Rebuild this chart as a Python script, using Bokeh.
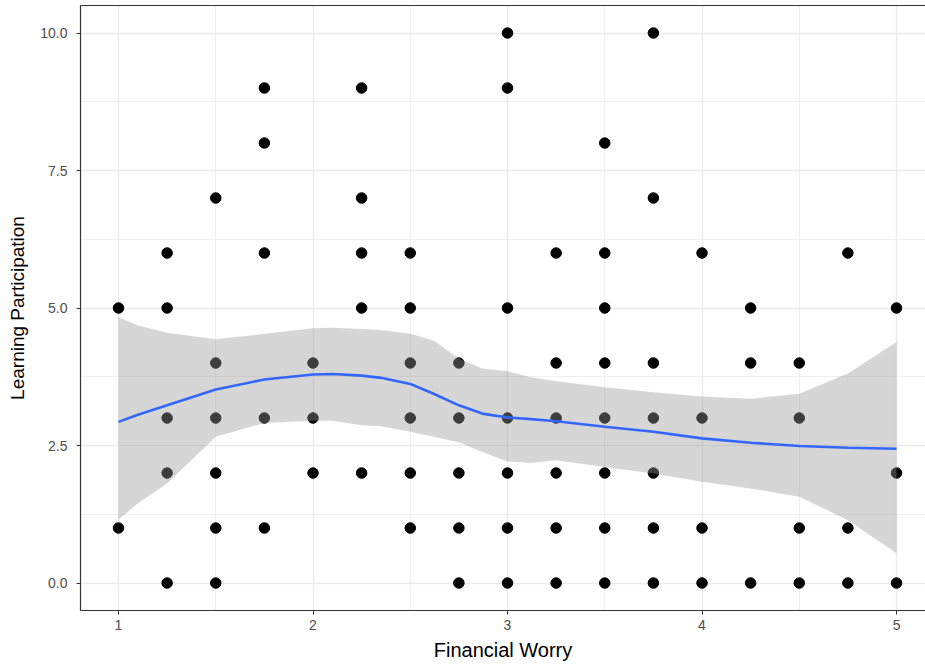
from bokeh.plotting import figure
from bokeh.models import Range1d, FixedTicker, NumeralTickFormatter, LinearAxis
from bokeh.embed import file_html
from bokeh.resources import INLINE

# ---- data: scatter points (Financial Worry vs Learning Participation) ----
worry = (
    [1.0] * 2 + [1.25] * 5 + [1.5] * 6 + [1.75] * 5 + [2.0] * 3 + [2.25] * 5 +
    [2.5] * 6 + [2.75] * 5 + [3.0] * 7 + [3.25] * 6 + [3.5] * 8 + [3.75] * 7 +
    [4.0] * 4 + [4.25] * 3 + [4.5] * 4 + [4.75] * 3 + [5.0] * 3
)
participation = [
    5, 1,
    6, 5, 3, 2, 0,
    7, 4, 3, 2, 1, 0,
    9, 8, 6, 3, 1,
    4, 3, 2,
    9, 7, 6, 5, 2,
    6, 5, 4, 3, 2, 1,
    4, 3, 2, 1, 0,
    10, 9, 5, 3, 2, 1, 0,
    6, 4, 3, 2, 1, 0,
    8, 6, 5, 4, 3, 2, 1, 0,
    10, 7, 4, 3, 2, 1, 0,
    6, 3, 1, 0,
    5, 4, 0,
    4, 3, 1, 0,
    6, 1, 0,
    5, 2, 0,
]

# ---- loess smooth ----
smooth_x = [1.0, 1.1, 1.25, 1.5, 1.75, 2.0, 2.1, 2.25, 2.35, 2.5, 2.62, 2.75, 2.87,
            3.0, 3.12, 3.25, 3.5, 3.75, 4.0, 4.25, 4.5, 4.75, 5.0]
smooth_fit = [2.93, 3.06, 3.23, 3.52, 3.70, 3.79, 3.80, 3.77, 3.73, 3.62, 3.44, 3.23, 3.08,
              3.01, 2.98, 2.94, 2.84, 2.75, 2.63, 2.55, 2.49, 2.46, 2.44]
smooth_upper = [4.83, 4.68, 4.55, 4.43, 4.53, 4.63, 4.64, 4.62, 4.60, 4.53, 4.41, 4.08, 3.90,
                3.85, 3.74, 3.67, 3.56, 3.47, 3.39, 3.35, 3.44, 3.81, 4.38]
smooth_lower = [1.15, 1.45, 1.81, 2.66, 2.91, 2.95, 2.95, 2.87, 2.85, 2.75, 2.66, 2.56, 2.38,
                2.21, 2.18, 2.23, 2.11, 1.99, 1.84, 1.72, 1.57, 1.14, 0.54]

x_ticks = [1, 2, 3, 4, 5]
x_minor = [1.5, 2.5, 3.5, 4.5]
y_ticks = [0, 2.5, 5, 7.5, 10]
y_minor = [1.25, 3.75, 6.25, 8.75]

FONT = "Liberation Sans"

p = figure(width=925, height=665, output_backend="svg", toolbar_location=None,
           x_range=Range1d(0.8046, 5.149), y_range=Range1d(-0.5, 10.5),
           min_border_left=80, min_border_right=0, min_border_top=5, min_border_bottom=55)
p.background_fill_color = "white"
p.border_fill_color = "white"
p.outline_line_color = None

# grids
for g, major, minor in ((p.xgrid[0], x_ticks, x_minor), (p.ygrid[0], y_ticks, y_minor)):
    g.ticker = FixedTicker(ticks=major, minor_ticks=minor)
    g.grid_line_color = "#EBEBEB"
    g.grid_line_width = 1.4
    g.minor_grid_line_color = "#EBEBEB"
    g.minor_grid_line_width = 0.8

# axes
xa = p.xaxis[0]
xa.ticker = FixedTicker(ticks=x_ticks, minor_ticks=x_minor)
ya = p.yaxis[0]
ya.ticker = FixedTicker(ticks=y_ticks, minor_ticks=y_minor)
ya.formatter = NumeralTickFormatter(format="0.0")
for ax in (xa, ya):
    ax.axis_line_color = "#333333"
    ax.axis_line_width = 1.2
    ax.major_tick_line_color = "#333333"
    ax.major_tick_out = 4
    ax.major_tick_in = 0
    ax.minor_tick_out = 0
    ax.minor_tick_in = 0
    ax.major_label_text_color = "#4D4D4D"
    ax.major_label_text_font = FONT
    ax.major_label_text_font_size = "14px"
    ax.axis_label_text_font = FONT
    ax.axis_label_text_font_style = "normal"
    ax.axis_label_text_color = "black"
xa.axis_label = "Financial Worry"
xa.axis_label_text_font_size = "20px"
ya.axis_label = "Learning Participation"
ya.axis_label_text_font_size = "19px"
xa.major_label_standoff = 5
xa.axis_label_standoff = 6
ya.major_label_standoff = 9
ya.axis_label_standoff = 9

# top border as an empty axis
top = LinearAxis(ticker=FixedTicker(ticks=[]), axis_line_color="#333333", axis_line_width=1.2,
                 major_tick_out=0, major_tick_in=0, minor_tick_out=0, minor_tick_in=0,
                 major_label_text_font_size="0px", major_label_standoff=0)
p.add_layout(top, "above")

# points, then confidence band over them, then the fit line
p.scatter(worry, participation, size=10.5, color="black")
p.varea(x=smooth_x, y1=smooth_lower, y2=smooth_upper, fill_color="#999999", fill_alpha=0.4)
p.line(smooth_x, smooth_fit, line_color="#3366FF", line_width=2.6)

open("out.html", "w").write(file_html(p, INLINE))
